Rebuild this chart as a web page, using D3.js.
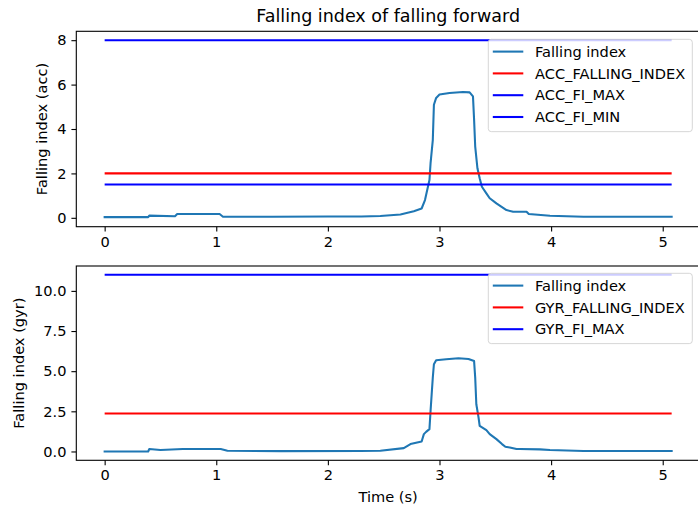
<!DOCTYPE html>
<html><head><meta charset="utf-8">
<script src="https://cdn.jsdelivr.net/npm/d3@7"></script>
<style>body{margin:0;background:#fff}svg{display:block}text{font-family:"DejaVu Sans",sans-serif;fill:#000}</style>
</head><body><div id="chart"></div>
<script>
// ---- data ----
const title = "Falling index of falling forward";
const xTicks = [0, 1, 2, 3, 4, 5];
const accTicks = [0, 2, 4, 6, 8];
const gyrTicks = [0, 2.5, 5, 7.5, 10];
const tEnd = 5.08;

const accTime  = [0,0.39,0.40,0.63,0.65,1.03,1.06,1.5,2.0,2.3,2.47,2.65,2.77,2.84,2.87,2.89,2.91,2.92,2.94,2.95,2.97,3.0,3.09,3.21,3.27,3.30,3.31,3.32,3.34,3.36,3.38,3.42,3.45,3.51,3.57,3.60,3.66,3.78,3.80,3.99,4.29,5.08];
const accValue = [0.03,0.03,0.10,0.07,0.17,0.17,0.05,0.05,0.06,0.06,0.08,0.15,0.30,0.42,0.80,1.25,1.70,2.46,3.50,5.09,5.40,5.55,5.62,5.67,5.65,5.47,4.42,3.21,2.23,1.78,1.40,1.10,0.88,0.65,0.45,0.35,0.27,0.27,0.17,0.09,0.05,0.05];
const accThresholds = [
  {name: "ACC_FALLING_INDEX", value: 2.0, color: "#ff0000"},
  {name: "ACC_FI_MAX", value: 8.0, color: "#0000ff"},
  {name: "ACC_FI_MIN", value: 1.5, color: "#0000ff"}
];

const gyrTime  = [0,0.39,0.40,0.50,0.70,1.04,1.10,1.58,2.29,2.47,2.68,2.74,2.84,2.86,2.88,2.91,2.92,2.93,2.94,2.95,2.97,3.06,3.17,3.26,3.31,3.32,3.33,3.35,3.36,3.42,3.45,3.51,3.56,3.59,3.63,3.69,3.72,3.90,3.99,4.29,5.08];
const gyrValue = [0.00,0.00,0.15,0.09,0.15,0.15,0.04,0.02,0.03,0.04,0.21,0.46,0.62,1.08,1.22,1.39,2.53,3.57,4.60,5.43,5.68,5.74,5.80,5.76,5.63,4.60,2.94,2.11,1.60,1.33,1.08,0.77,0.46,0.29,0.25,0.15,0.15,0.13,0.09,0.03,0.03];
const gyrThresholds = [
  {name: "GYR_FALLING_INDEX", value: 2.36, color: "#ff0000"},
  {name: "GYR_FI_MAX", value: 11.0, color: "#0000ff"}
];

// ---- drawing ----
const W = 698, H = 510;
const FS = 14.6, TFS = 17.5;
const svg = d3.select("#chart").append("svg").attr("width", W).attr("height", H);
const left = 76.3, right = 700;
const x = d3.scaleLinear().domain([-0.254, 5.334]).range([left, right]);
const lineColor = "#1f77b4";

svg.append("text").attr("x", (left + right) / 2).attr("y", 22).attr("text-anchor", "middle")
  .style("font-size", TFS + "px").text(title);

function panel(top, bottom, yDomain, ticks, fmt, time, vals, thresholds, ylabel, ylabelX, legendTop, showXLabel) {
  const y = d3.scaleLinear().domain(yDomain).range([bottom, top]);
  const g = svg.append("g");
  const xa = g.append("g").attr("transform", `translate(0,${bottom})`)
    .call(d3.axisBottom(x).tickValues(xTicks).tickFormat(d3.format("d")).tickSize(4.9).tickPadding(4.6));
  const ya = g.append("g").attr("transform", `translate(${left},0)`)
    .call(d3.axisLeft(y).tickValues(ticks).tickFormat(fmt).tickSize(4.9).tickPadding(4.9));
  [xa, ya].forEach(a => {
    a.select(".domain").remove();
    a.selectAll("line").attr("stroke", "#000").attr("stroke-width", 1.1);
    a.selectAll("text").style("font-size", FS + "px").style("font-family", "DejaVu Sans").attr("fill", "#000");
  });
  const cid = "clip" + Math.round(top);
  svg.append("clipPath").attr("id", cid).append("rect")
    .attr("x", left).attr("y", top).attr("width", right - left).attr("height", bottom - top);
  const pg = g.append("g").attr("clip-path", `url(#${cid})`);
  const pts = time.map((t, i) => [t, vals[i]]);
  pg.append("path").datum(pts).attr("fill", "none").attr("stroke", lineColor).attr("stroke-width", 2.08)
    .attr("stroke-linejoin", "round").attr("stroke-linecap", "square")
    .attr("d", d3.line().x(d => x(d[0])).y(d => y(d[1])));
  thresholds.forEach(th => {
    pg.append("path").datum([[0, th.value], [tEnd, th.value]]).attr("fill", "none")
      .attr("stroke", th.color).attr("stroke-width", 2.08)
      .attr("d", d3.line().x(d => x(d[0])).y(d => y(d[1])));
  });
  g.append("rect").attr("x", left).attr("y", top).attr("width", right - left).attr("height", bottom - top)
    .attr("fill", "none").attr("stroke", "#000").attr("stroke-width", 1.1);
  g.append("text").attr("transform", `translate(${ylabelX},${(top + bottom) / 2}) rotate(-90)`)
    .attr("text-anchor", "middle").attr("dominant-baseline", "central")
    .style("font-size", FS + "px").text(ylabel);
  if (showXLabel) {
    g.append("text").attr("x", (left + right) / 2).attr("y", bottom + 42).attr("text-anchor", "middle")
      .style("font-size", FS + "px").text("Time (s)");
  }
  const entries = [{name: "Falling index", color: lineColor}].concat(thresholds);
  const pitch = 21.8, lx = 488.3, lw = 204;
  const lh = entries.length * 15.1 + (entries.length - 1) * 6.95 + 11.1;
  const lg = g.append("g");
  lg.append("rect").attr("x", lx).attr("y", legendTop).attr("width", lw).attr("height", lh)
    .attr("rx", 3).attr("fill", "#fff").attr("fill-opacity", 0.8)
    .attr("stroke", "#cccccc").attr("stroke-opacity", 0.8).attr("stroke-width", 1);
  entries.forEach((e, i) => {
    const cy = legendTop + 12.3 + i * pitch;
    lg.append("line").attr("x1", lx + 4.5).attr("x2", lx + 35).attr("y1", cy).attr("y2", cy)
      .attr("stroke", e.color).attr("stroke-width", 2.08);
    lg.append("text").attr("x", lx + 46.7).attr("y", cy + 5.2).style("font-size", FS + "px").text(e.name);
  });
}

panel(31.3, 226.7, [-0.4, 8.4], accTicks, d3.format("d"), accTime, accValue, accThresholds,
  "Falling index (acc)", 41.7, 39.3, false);
panel(266, 460.3, [-0.55, 11.55], gyrTicks, d3.format(".1f"), gyrTime, gyrValue, gyrThresholds,
  "Falling index (gyr)", 18.3, 273.3, true);
</script></body></html>
